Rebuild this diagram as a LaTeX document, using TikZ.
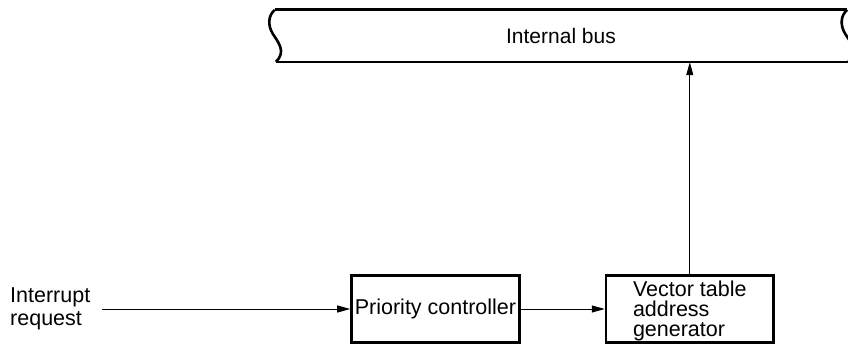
\documentclass[tikz,border=0pt]{standalone}
\usepackage{fontspec}
\setmainfont{Liberation Sans}
\usetikzlibrary{arrows.meta, positioning, calc}
\tikzset{
    box/.style={rectangle, draw, line width=2.6pt, minimum width=166.4pt, minimum height=67.4pt, font=\fontsize{21.5pt}{20pt}\selectfont},
    arrow/.style={line width=1pt, -{Triangle[length=13pt, width=7pt]}},
    buswall/.style={line width=2.6pt}
}

\begin{document}
\begin{tikzpicture}[x=1pt, y=-1pt]
    \useasboundingbox (0,0) rectangle (848,347);
    \clip (0,0) rectangle (848,347);
    \node (bus) [minimum width=572pt, minimum height=52pt, inner sep=0pt, font=\fontsize{21pt}{21pt}\selectfont] at (561,36) {Internal bus};
    \node (prio) [box] at (435.5,309) {Priority controller};
    \node (vec) [box, minimum width=167.4pt, align=left, text depth=0pt, right=84pt of prio] {Vector table\\address\\generator};
    \node (irq) [anchor=west, inner sep=0pt, align=left, font=\fontsize{21.5pt}{23pt}\selectfont] at (10,309) {Interrupt\\request};

    % bus outline
    \draw [buswall] (bus.north west) -- (bus.north east);
    \draw [buswall] ($(bus.south west)+(1,0)$) -- ($(bus.south east)+(1,0)$);
    \foreach \c in {north west, north east}
        \draw [buswall] (bus.\c) .. controls ($(bus.\c)+(-7,6)$) and ($(bus.\c)+(-7,16)$) .. ($(bus.\c)+(-2,24)$)
            .. controls ($(bus.\c)+(3,32)$) and ($(bus.\c)+(12,42)$) .. ($(bus.\c)+(1,52)$);

    \draw [arrow] ([xshift=12pt]irq.east) -- (prio.west);
    \draw [arrow] (prio) -- (vec);
    \draw [arrow] (vec.north) -- (vec.north |- bus.south);
\end{tikzpicture}
\end{document}
